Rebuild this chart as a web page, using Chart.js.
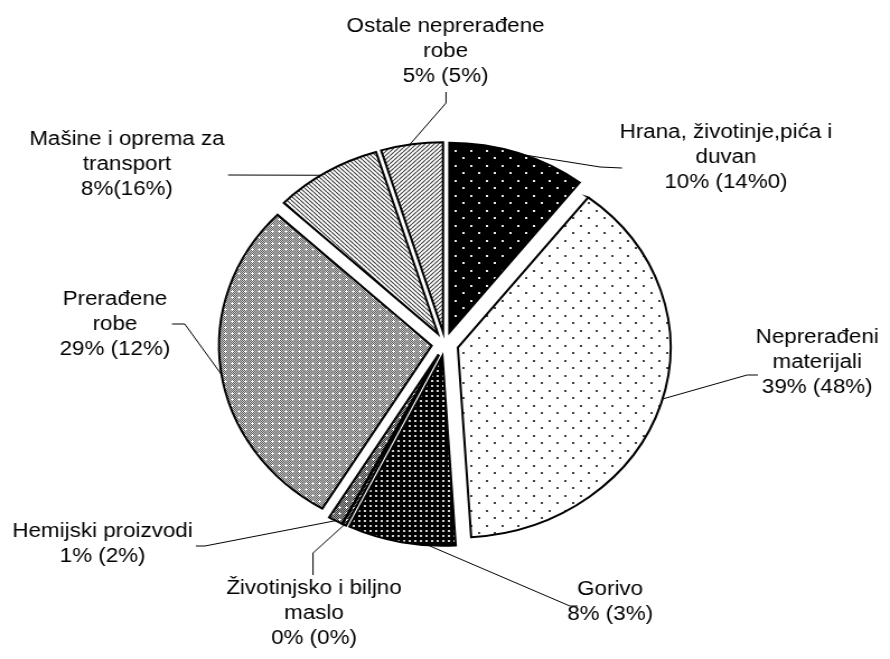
<!DOCTYPE html>
<html><head><meta charset="utf-8">
<script src="https://cdn.jsdelivr.net/npm/chart.js@4/dist/chart.umd.min.js"></script>
<style>
html,body{margin:0;padding:0;background:#fff;}
#c{display:block;width:890px !important;height:659px !important;}
</style></head><body>
<canvas id="c" width="795" height="659"></canvas>
<script>
// ---- data ----
const categories = [
  ["Hrana, životinje,pića i", "duvan"],
  ["Neprerađeni", "materijali"],
  ["Gorivo"],
  ["Životinjsko i biljno", "maslo"],
  ["Hemijski proizvodi"],
  ["Prerađene", "robe"],
  ["Mašine i oprema za", "transport"],
  ["Ostale neprerađene", "robe"]
];
const shares = [10.5, 38.5, 8.2, 0.3, 1.1, 28.5, 8.2, 4.7];
const shareLabels = ["10% (14%0)", "39% (48%)", "8% (3%)", "0% (0%)", "1% (2%)", "29% (12%)", "8%(16%)", "5% (5%)"];

// ---- layout (label text position: centre x, first baseline y) ----
const labelPos = [[648.5,138],[730,343],[545,595],[280.5,594],[91.6,537],[102.7,305],[113.4,145],[398,32]];
const leaderElbows = [
  [[555.6,168],[536,167]],
  [[677,375],[667.3,375]],
  [[516,606],[509,606]],
  [[279.6,575],[279.6,553]],
  [[175,546],[183,546]],
  [[153.6,324],[165,324]],
  [[203.7,175]],
  [[398.4,92],[398.4,103]]
];
const anchorFrac = [0.55,0.49,0.25,0.5,0.5,0.49,0.44,0.47];
const explode = 12;
const lineH = 25;

// ---- patterns ----
function mkPattern(w,h,draw){
  const c=document.createElement('canvas'); c.width=w; c.height=h;
  const x=c.getContext('2d'); draw(x,w,h); return x.createPattern(c,'repeat');
}
const pHrana = mkPattern(14,15,(x,w,h)=>{x.fillStyle='#000';x.fillRect(0,0,w,h);x.fillStyle='#e8e8e8';x.fillRect(0,0,2,2);x.fillRect(7,7,2,2);});
const pNepr = mkPattern(14,15,(x,w,h)=>{x.fillStyle='#fff';x.fillRect(0,0,w,h);x.fillStyle='#444';x.fillRect(0,0,2,2);x.fillRect(7,7,2,2);});
const pGorivo = mkPattern(5,5,(x,w,h)=>{x.fillStyle='#000';x.fillRect(0,0,w,h);x.fillStyle='#d0d0d0';x.fillRect(0,0,2,2);});
function checker(dark,light){
  return mkPattern(6,6,(x,w,h)=>{
    for(let i=0;i<w;i++)for(let j=0;j<h;j++){x.fillStyle=((i+j)%2===0)?dark:light;x.fillRect(i,j,1,1);}
    x.fillStyle='#fff';x.fillRect(2,3,3,1);x.fillRect(3,2,1,3);
  });
}
const pPrer = checker('#5a5a5a','#d0d0d0');
const pHem = checker('#333','#aaa');
const pZiv = checker('#222','#888');
function hatch(dir){
  return mkPattern(4,4,(x,w,h)=>{
    x.fillStyle='#fff';x.fillRect(0,0,w,h);x.strokeStyle='#3a3a3a';x.lineWidth=1.05;
    x.beginPath();
    for(let k=-1;k<=1;k++){
      if(dir==='back'){x.moveTo(k*4,0);x.lineTo(k*4+4,4);} else {x.moveTo(k*4,4);x.lineTo(k*4+4,0);}
    }
    x.stroke();
  });
}
const pMasine = hatch('back');
const pOstale = hatch('fwd');
const fills = [pHrana,pNepr,pGorivo,pZiv,pHem,pPrer,pMasine,pOstale];

// ---- plugins ----
const explodePlugin = {
  id:'explode',
  afterDatasetUpdate(chart,args){
    args.meta.data.forEach(el=>{
      const mid=(el.startAngle+el.endAngle)/2;
      el.x += Math.cos(mid)*explode;
      el.y += Math.sin(mid)*explode;
    });
  }
};
const labelPlugin = {
  id:'pieLabels',
  afterDraw(chart){
    const ctx=chart.ctx; const meta=chart.getDatasetMeta(0);
    ctx.save();
    ctx.strokeStyle='#000'; ctx.lineWidth=1;
    meta.data.forEach((el,i)=>{
      const a=el.startAngle+anchorFrac[i]*(el.endAngle-el.startAngle);
      const px=el.x+Math.cos(a)*el.outerRadius, py=el.y+Math.sin(a)*el.outerRadius;
      const pts=leaderElbows[i];
      ctx.beginPath(); ctx.moveTo(pts[0][0],pts[0][1]);
      for(let k=1;k<pts.length;k++) ctx.lineTo(pts[k][0],pts[k][1]);
      ctx.lineTo(px,py); ctx.stroke();
    });
    ctx.fillStyle='#000'; ctx.font='20px "Liberation Sans", Arial, sans-serif';
    ctx.textAlign='center'; ctx.textBaseline='alphabetic';
    categories.forEach((lines,i)=>{
      const all=lines.concat([shareLabels[i]]);
      all.forEach((t,k)=>ctx.fillText(t,labelPos[i][0],labelPos[i][1]+k*lineH));
    });
    ctx.restore();
  }
};

new Chart(document.getElementById('c'),{
  type:'pie',
  data:{labels:categories.map(l=>l.join(' ')),datasets:[{data:shares,backgroundColor:fills,borderColor:'#000',borderWidth:2,borderJoinStyle:'miter',radius:190}]},
  options:{responsive:false,animation:false,events:[],layout:{padding:{top:29}},
    plugins:{legend:{display:false},tooltip:{enabled:false}}},
  plugins:[explodePlugin,labelPlugin]
});
</script>
</body></html>
